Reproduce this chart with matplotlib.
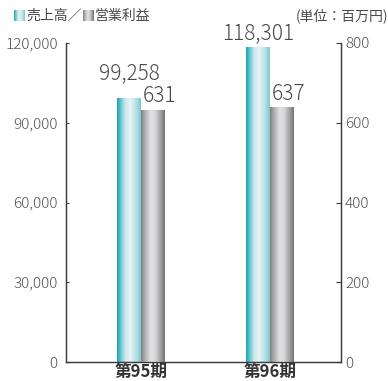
import numpy as np
import matplotlib
matplotlib.use("Agg")
import matplotlib.pyplot as plt
from matplotlib.colors import LinearSegmentedColormap

plt.rcParams['font.family'] = ['Noto Sans CJK JP', 'DejaVu Sans']

# Data
periods = ["第95期", "第96期"]
sales = [99258, 118301]          # 売上高 (left axis)
op_profit = [631, 637]           # 営業利益 (right axis)
sales_labels = ["99,258", "118,301"]
profit_labels = ["631", "637"]
left_ticks = [0, 30000, 60000, 90000, 120000]
left_ticklabels = ["0", "30,000", "60,000", "90,000", "120,000"]
right_ticks = [0, 200, 400, 600, 800]

W, H = 388, 381
fig = plt.figure(figsize=(W / 100, H / 100), dpi=100)
ax = fig.add_axes([66 / W, (H - 362) / H, 275 / W, 319 / H])
ax2 = ax.twinx()

text_col = "#4a4a4a"
axis_col = "#3c3c3c"

cyan_cmap = LinearSegmentedColormap.from_list(
    "cyan", [(0.0, "#10a3b0"), (0.12, "#55c0c9"), (0.35, "#cfe9ee"),
             (0.55, "#e6f3f5"), (0.8, "#b9e0e5"), (1.0, "#79c9d0")])
gray_cmap = LinearSegmentedColormap.from_list(
    "gray", [(0.0, "#7d7d80"), (0.15, "#a9a9ac"), (0.4, "#e2e2e3"),
             (0.6, "#d6d6d8"), (0.85, "#9a9a9d"), (1.0, "#727276")])
grad = np.linspace(0, 1, 256).reshape(1, -1)

x = np.arange(len(periods))
bw = 0.183
xlim = (-0.58, 1.55)


def gradient_bar(axis, xc, height, cmap):
    axis.imshow(grad, cmap=cmap, aspect="auto", interpolation="bicubic",
                extent=(xc - bw / 2, xc + bw / 2, 0, height), zorder=2)


for i in range(len(periods)):
    gradient_bar(ax, x[i] - bw / 2, sales[i], cyan_cmap)
    gradient_bar(ax2, x[i] + bw / 2, op_profit[i], gray_cmap)

ax.set_xlim(*xlim)
ax2.set_xlim(*xlim)
ax.set_ylim(0, 120000)
ax2.set_ylim(0, 800)

# Value labels
sales_offsets = [19, 8]
for i in range(len(periods)):
    ax.annotate(sales_labels[i], (x[i] - bw / 2, sales[i]),
                xytext=(0, sales_offsets[i] * 0.72), textcoords="offset points",
                ha="center", va="baseline", fontsize=15, color=text_col,
                fontweight="light")
    ax2.annotate(profit_labels[i], (x[i], op_profit[i]),
                 xytext=(1.5, 8 * 0.72), textcoords="offset points",
                 ha="left", va="baseline", fontsize=15, color=text_col,
                 fontweight="light")

# Axes styling
ax.spines["top"].set_visible(False)
ax2.spines["top"].set_visible(False)
for sp in ["left", "bottom", "right"]:
    ax2.spines[sp].set_color(axis_col)
    ax2.spines[sp].set_linewidth(0.9)
    ax.spines[sp].set_color(axis_col)
    ax.spines[sp].set_linewidth(0.9)

ax.set_yticks(left_ticks)
ax.set_yticklabels(left_ticklabels, fontweight="light")
ax2.set_yticks(right_ticks)
ax2.set_yticklabels([str(v) for v in right_ticks], fontweight="light")
ax.tick_params(axis="y", direction="in", length=2.5, width=0.8, color=axis_col,
               labelsize=11, labelcolor="#555555", pad=6)
ax2.tick_params(axis="y", direction="in", length=3.5, width=0.8, color=axis_col,
                labelsize=11, labelcolor="#555555", pad=3)
ax.set_xticks(x)
ax.set_xticklabels(periods, fontsize=12, fontweight="bold", color="#333333")
ax.tick_params(axis="x", length=0, pad=0.5)

# Legend and unit note
def swatch(px, cmap):
    sax = fig.add_axes([px / W, (H - 21) / H, 11 / W, 11 / H])
    sax.imshow(grad, cmap=cmap, aspect="auto", interpolation="bicubic")
    sax.axis("off")


swatch(14, cyan_cmap)
fig.text(26 / W, 1 - 15.5 / H, "売上高／", fontsize=10, color=text_col,
         va="center", ha="left")
swatch(83, gray_cmap)
fig.text(95 / W, 1 - 15.5 / H, "営業利益", fontsize=10, color=text_col,
         va="center", ha="left")
fig.text(1.0, 1 - 15.5 / H, "(単位：百万円)", fontsize=10, color=text_col,
         va="center", ha="right")

fig.savefig("out.png", dpi=100)
